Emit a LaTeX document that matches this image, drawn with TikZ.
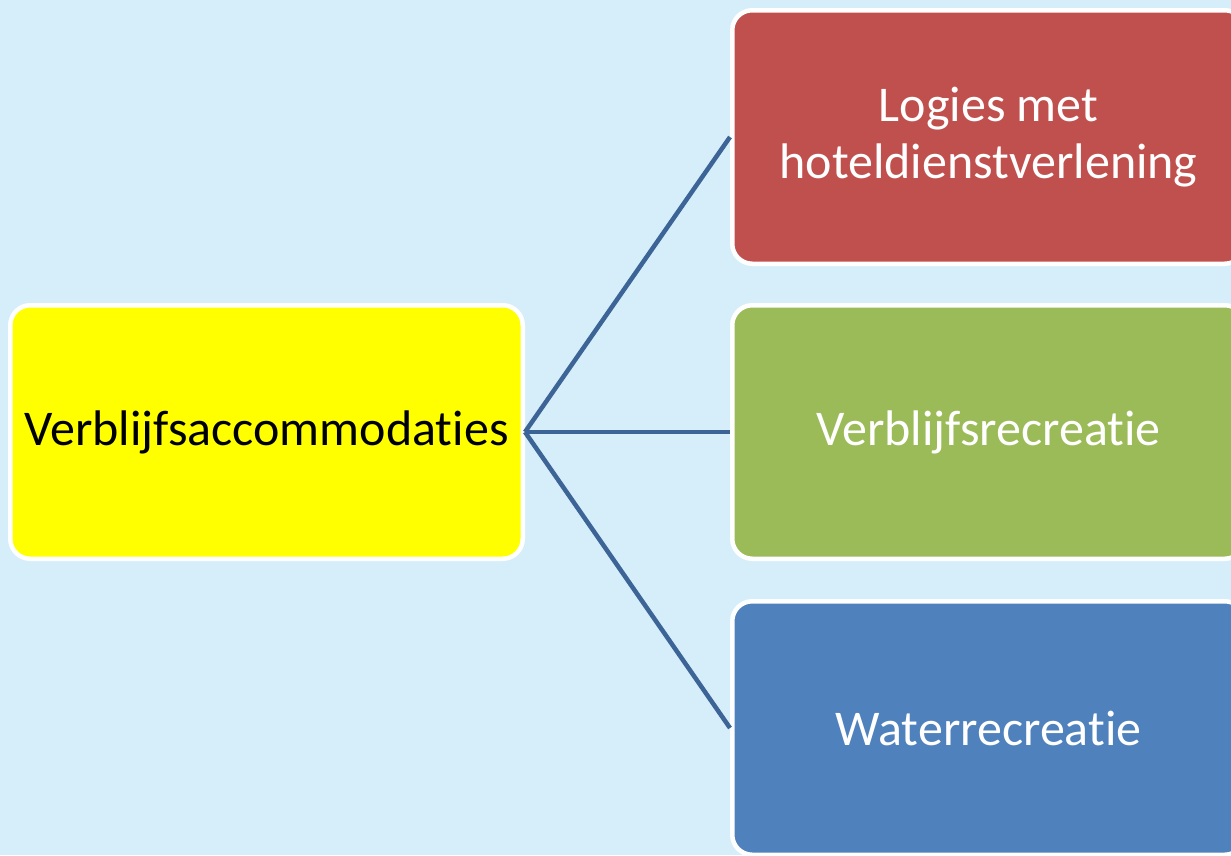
\documentclass[tikz,border=0pt]{standalone}
\usepackage{fontspec}
\setmainfont{Carlito}[Ligatures={NoCommon,NoRequired,NoContextual}]
\definecolor{bgblue}{RGB}{213,238,250}
\definecolor{boxyellow}{RGB}{255,255,0}
\definecolor{boxred}{RGB}{192,80,77}
\definecolor{boxgreen}{RGB}{155,187,89}
\definecolor{boxblue}{RGB}{79,129,189}
\definecolor{linkblue}{RGB}{60,100,150}
\definecolor{pwhite}{RGB}{255,255,255}
\definecolor{pblack}{RGB}{0,0,0}
\tikzset{
  box/.style={draw=pwhite, line width=4.5pt, rounded corners=20pt,
    minimum width=512.5pt, minimum height=253.5pt, inner sep=0pt,
    align=center, font=\fontsize{50}{57}\selectfont},
  link/.style={draw=linkblue, line width=4.5pt}
}
\begin{document}
\begin{tikzpicture}[x=1pt,y=1pt]
\useasboundingbox (0,0) rectangle (1231,-855);
\clip (0,0) rectangle (1231,-855);
\fill[bgblue] (0,0) rectangle (1231,-855);
\node[box, fill=boxyellow, text=pblack] (main) at (266.5,-432) {Verblijfsaccommodaties};
\node[box, fill=boxred, text=pwhite] (logies) at (988.5,-137) {Logies met\\hoteldienstverlening};
\node[box, fill=boxgreen, text=pwhite] (verblijf) at (988.5,-432) {Verblijfsrecreatie};
\node[box, fill=boxblue, text=pwhite] (water) at (988.5,-728) {Waterrecreatie};
\draw[link] (main.east) -- (logies.west);
\draw[link] (main.east) -- (verblijf.west);
\draw[link] (main.east) -- (water.west);
\end{tikzpicture}
\end{document}
